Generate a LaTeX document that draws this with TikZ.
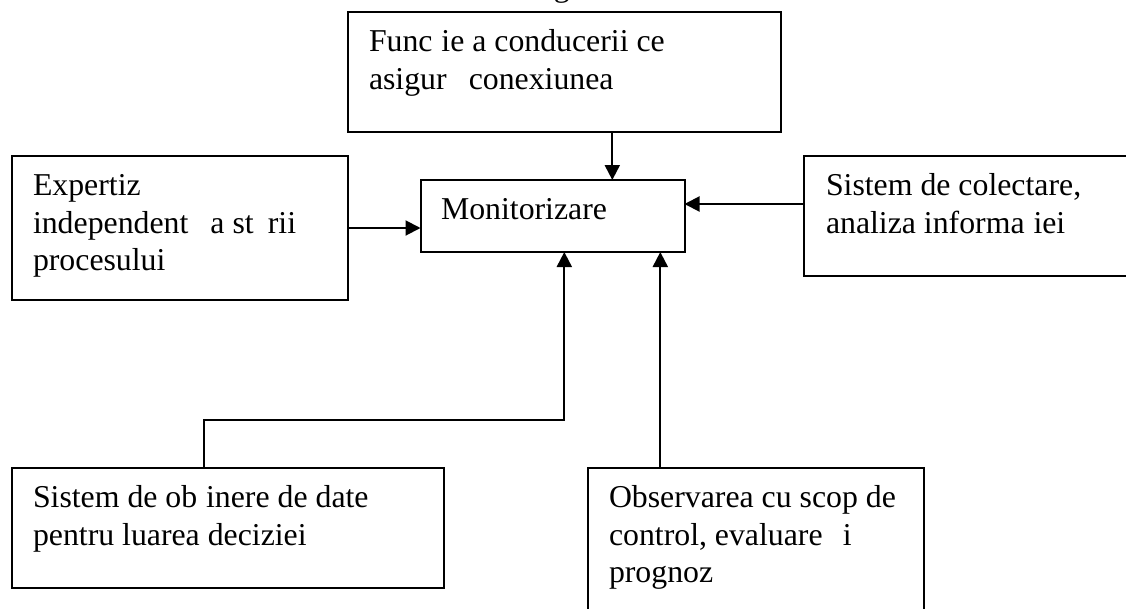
\documentclass[tikz,border=0pt]{standalone}
\usepackage{fontspec}
\setmainfont{Liberation Serif}
\usetikzlibrary{arrows.meta}
\newcommand{\boxedtext}[4]{\parbox[c][#2pt][t]{#1pt}{\fontsize{31.8}{37.5}\selectfont\raggedright\leftskip=#3pt\relax\rule{0pt}{39.5pt}#4}}
\newcommand{\gapt}{\hspace{.278em}}
\newcommand{\gapa}{\hspace{.444em}}
\newcommand{\gaps}{\hspace{.389em}}
\tikzset{
  blockbox/.style={draw=black,line width=2pt,inner sep=0pt,outer sep=0pt,anchor=north west},
  conn/.style={draw=black,line width=2pt,line join=miter},
  arr/.style={conn,-{Triangle[length=15pt,width=15pt]}}
}
\begin{document}
\begin{tikzpicture}[x=1pt,y=-1pt]
\useasboundingbox (0,0) rectangle (1126,608);
\clip (0,0) rectangle (1126,608);
\node[inner sep=0pt,anchor=base] (cut) at (561.7,-3.6) {\fontsize{31.8}{37.5}\selectfont g};
\node[blockbox] (top) at (348,12) {\boxedtext{432.5}{120}{21}{Func\gapt{}ie a conducerii ce\\asigur\gapa{} conexiunea}};
\node[blockbox] (left) at (12,156) {\boxedtext{336}{144}{21}{Expertiz\\independent\gapa{} a st\gapa{}rii\\procesului}};
\node[blockbox] (mon) at (420.5,180) {\boxedtext{264}{72}{20.5}{Monitorizare}};
\node[blockbox] (right) at (804,156) {\boxedtext{340}{120}{22}{Sistem de colectare,\\analiza informa\gapt{}iei}};
\node[blockbox] (bl) at (12,468) {\boxedtext{432}{120}{21}{Sistem de ob\gapt{}inere de date\\pentru luarea deciziei}};
\node[blockbox] (br) at (588,468) {\boxedtext{336}{160}{21}{Observarea cu scop de\\control, evaluare\gaps{} i\\prognoz}};
\draw[arr] ([xshift=59.8pt]mon.north |- top.south) -- ([xshift=59.8pt]mon.north);
\draw[arr] (left.east) -- ([yshift=-12pt]mon.west);
\draw[arr] ([yshift=12pt]right.west) -- ([yshift=12pt]mon.east);
\draw[arr] ([xshift=-24pt]bl.north) |- ([xshift=11.8pt,yshift=-168pt]mon.south) -- ([xshift=11.8pt]mon.south);
\draw[arr] ([xshift=107.8pt]mon.south |- br.north) -- ([xshift=107.8pt]mon.south);
\end{tikzpicture}
\end{document}
